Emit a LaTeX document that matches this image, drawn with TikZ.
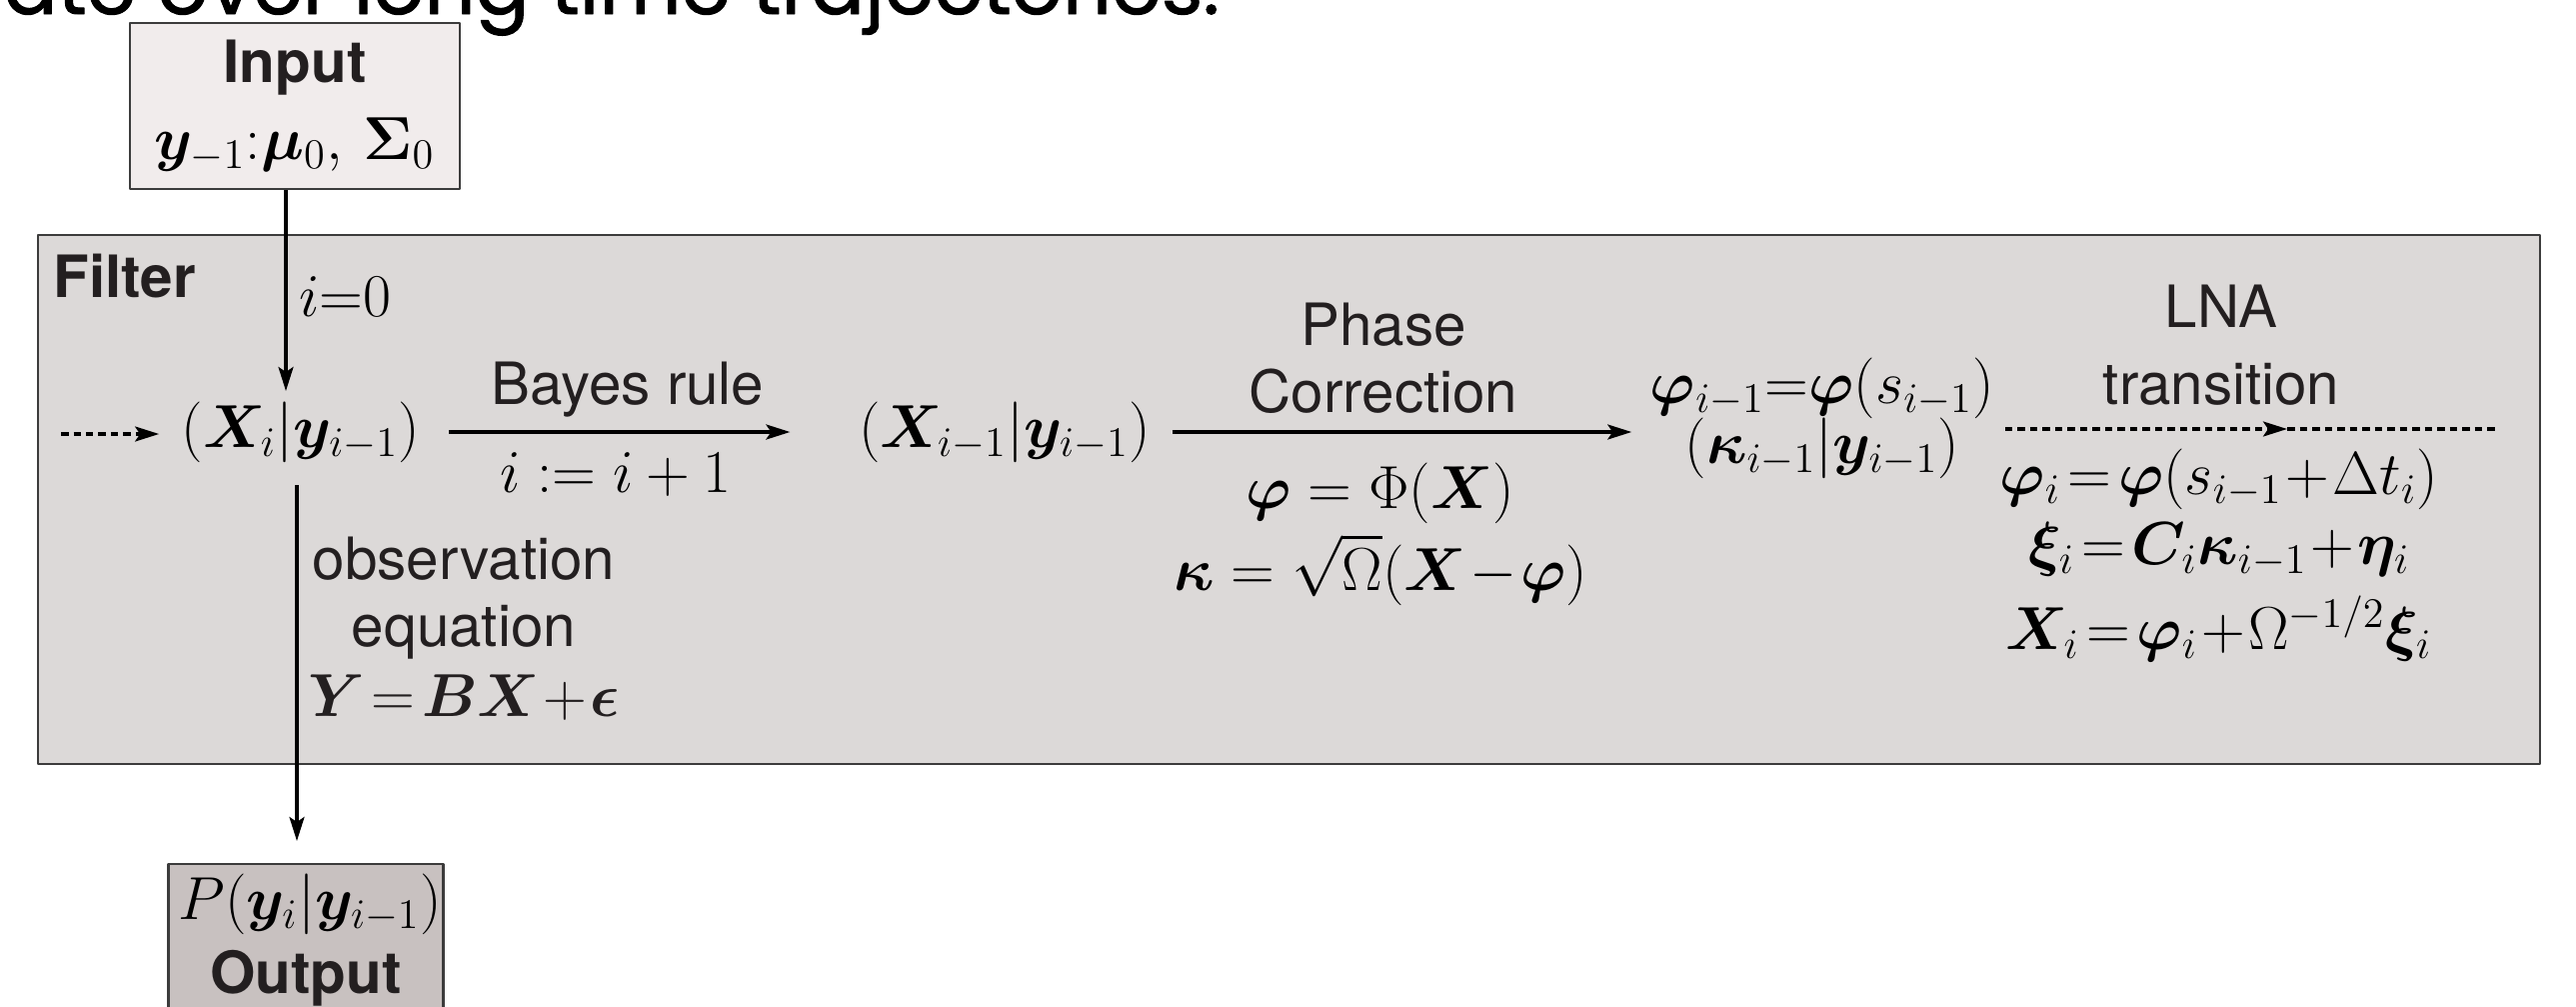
\documentclass[tikz,border=0pt]{standalone}
\usepackage{amsmath,bm}
\usepackage[no-math]{fontspec}
\setsansfont{TeX Gyre Heros}
\newfontfamily\slidefont{Poppins}[FakeBold=1.2]
\usetikzlibrary{arrows.meta,positioning}
\definecolor{filterfill}{RGB}{220,217,216}
\definecolor{inputfill}{RGB}{241,236,236}
\definecolor{outputfill}{RGB}{200,193,192}
\definecolor{boxline}{RGB}{60,60,60}
\definecolor{ink}{RGB}{35,31,32}
\begin{document}
\begin{tikzpicture}[x=0.1mm, y=-0.1mm, line join=round,
  >={Stealth[length=2.4mm, width=1.5mm, inset=0.5mm]},
  font=\fontsize{16.6}{20}\selectfont,
  every node/.style={inner sep=0pt},
  word/.style={font=\fontsize{16.6}{19}\selectfont\sffamily, text=ink, align=center},
  head/.style={font=\fontsize{16.6}{20}\selectfont\sffamily\bfseries, text=ink},
  eq/.style={align=center},
  frame/.style={draw=boxline, line width=0.7pt},
  flow/.style={->, line width=0.95pt},
  dotflow/.style={line width=0.9pt, dash pattern=on 0.75mm off 0.5mm},
  slide/.style={font=\slidefont\fontsize{22.7}{27}\selectfont, text=black, anchor=base west}]
\useasboundingbox (0,0) rectangle (2577,1006);
\clip (0,0) rectangle (2577,1006);
% slide text cut by the frame
\node[slide] (toptext) at (3,14) {ate over long time trajectories.};
\node[slide] (bottext) at (1390,1074) {The pcLNA algorithm};
% input
\node[frame, fill=inputfill, minimum width=33mm, minimum height=16.6mm, align=center] (input) at (295,106)
  {{\sffamily\bfseries\color{ink} Input}\\[2pt] $\bm{y}_{-1}\mathord{:}\bm{\mu}_0,\,\bm{\Sigma}_0$};
% filter
\path (38,235) coordinate (fnw)
  (2541,764) coordinate (fse);
\draw[frame, fill=filterfill] (fnw) rectangle (fse);
\node[head, anchor=west] (filtername) at (53,276) {Filter};
\node (xi) at (301,432) {$\left(\bm{X}_i\middle|\bm{y}_{i-1}\right)$};
\node (xim) at (1005,432) {$\left(\bm{X}_{i-1}\middle|\bm{y}_{i-1}\right)$};
\node[eq] (phi) at (1823,418) {$\bm{\varphi}_{i-1}{=}\bm{\varphi}(s_{i-1})$\\[-3pt]$\left(\bm{\kappa}_{i-1}\middle|\bm{y}_{i-1}\right)$};
\node[anchor=west] (izero) at (299,297) {$i{=}0$};
\node[word] (bayes) at (628,390) {Bayes rule};
\node (incr) at (616,475) {$i:=i+1$};
\node[word] (phase) at (1384,358) {Phase\\Correction};
\node[eq] (phasemap) at (1381,534) {$\bm{\varphi}=\Phi(\bm{X})$\\[2pt]$\bm{\kappa}=\sqrt{\Omega}(\bm{X}\!-\!\bm{\varphi})$};
\node[word] (lna) at (2222,345) {LNA\\[3pt]transition};
\node[eq] (lnamap) at (2220,555) {$\bm{\varphi}_i\!=\!\bm{\varphi}(s_{i-1}\!+\!\Delta t_i)$\\
  $\bm{\xi}_i\!=\!\bm{C}_i\bm{\kappa}_{i-1}\!+\!\bm{\eta}_i$\\[4pt]
  $\bm{X}_i\!=\!\bm{\varphi}_i\!+\!\Omega^{-1/2}\bm{\xi}_i$};
\node[word] (obs) at (464,629) {observation\\equation\\[1pt]$\bm{Y}\!=\!\bm{B}\bm{X}\!+\!\bm{\epsilon}$};
% output
\node[frame, fill=outputfill, anchor=north, inner sep=1mm] (out) at (306,863)
  {\begin{minipage}[t][19mm][t]{25.5mm}\centering
   $P\!\left(\bm{y}_i\middle|\bm{y}_{i-1}\right)$\\[1pt]
   {\sffamily\bfseries\color{ink} Output}\end{minipage}};
% connectors
\path (286,391) coordinate (intip)
  (61,434) coordinate (loopin)
  (2288,429) coordinate (lnamid)
  (2498,429) coordinate (lnaend)
  (297,485) coordinate (obstop);
\draw[flow] (input.south -| intip) -- (intip);
\draw[dotflow,->, shorten >=2.2mm] (loopin) -- (loopin -| xi.west);
\draw[flow] ([xshift=2.8mm]xi.east) -- ([xshift=-6.8mm]xim.west);
\draw[flow] ([xshift=2.1mm]xim.east) -- ([xshift=-1.8mm]xim.east -| phi.west);
\draw[dotflow,->] ([xshift=1.0mm]phi.east |- lnamid) -- (lnamid);
\draw[dotflow] (lnamid) -- (lnaend);
\draw[flow, shorten >=2.2mm] (obstop) -- (obstop |- out.north);
\end{tikzpicture}
\end{document}
